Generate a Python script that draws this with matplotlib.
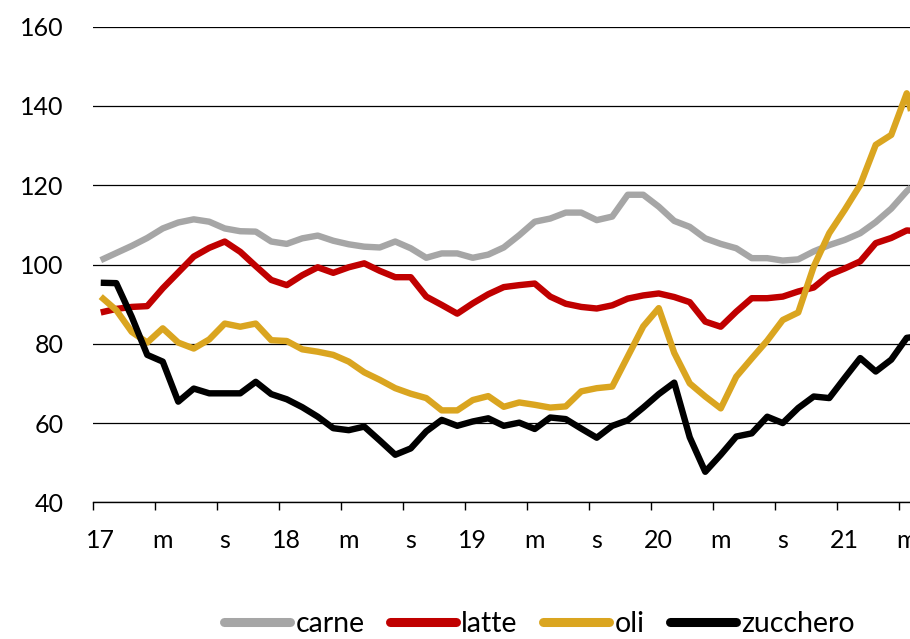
import numpy as np
import matplotlib
matplotlib.use('Agg')
import matplotlib.pyplot as plt
from matplotlib.ticker import FixedLocator, NullFormatter, FixedFormatter

plt.rcParams['font.family'] = ['Lato', 'DejaVu Sans']

# dati mensili da gen 2017 (indice 0) a giu 2021
carne = [101.1, 102.9, 104.7, 106.7, 109.1, 110.6, 111.4, 110.8, 109.1, 108.4,
         108.3, 105.8, 105.2, 106.6, 107.3, 106.0, 105.1, 104.5, 104.3, 105.8,
         104.1, 101.7, 102.8, 102.8, 101.7, 102.5, 104.3, 107.4, 110.8, 111.6,
         113.1, 113.1, 111.2, 112.1, 117.6, 117.6, 114.6, 111.0, 109.5, 106.6,
         105.2, 104.1, 101.6, 101.6, 101.0, 101.3, 103.3, 104.9, 106.2, 107.9,
         110.7, 114.1, 118.5, 122.0]
latte = [87.9, 88.8, 89.3, 89.5, 94.0, 98.0, 102.0, 104.2, 105.8, 103.2,
         99.6, 96.1, 94.8, 97.3, 99.3, 97.9, 99.3, 100.3, 98.4, 96.8,
         96.8, 91.9, 89.8, 87.6, 90.2, 92.5, 94.3, 94.8, 95.2, 91.9,
         90.1, 89.3, 88.9, 89.7, 91.4, 92.2, 92.7, 91.8, 90.5, 85.6,
         84.3, 88.1, 91.5, 91.5, 91.9, 93.2, 94.2, 97.4, 99.0, 100.8,
         105.4, 106.7, 108.6, 108.3]
oli = [91.9, 88.5, 83.0, 80.3, 83.9, 80.3, 78.8, 81.1, 85.1, 84.3,
       85.1, 80.9, 80.7, 78.6, 78.0, 77.2, 75.5, 72.8, 70.9, 68.8,
       67.4, 66.3, 63.2, 63.2, 65.8, 66.8, 64.1, 65.2, 64.6, 63.9,
       64.2, 68.0, 68.8, 69.2, 76.8, 84.4, 89.0, 77.7, 70.0, 66.7,
       63.7, 71.7, 76.3, 80.8, 86.0, 87.9, 99.5, 107.9, 113.8, 120.1,
       130.2, 132.7, 143.2, 127.0]
zucchero = [95.4, 95.3, 86.8, 77.2, 75.5, 65.4, 68.7, 67.5, 67.5, 67.5,
            70.4, 67.3, 66.0, 64.0, 61.6, 58.7, 58.2, 59.1, 55.6, 52.0,
            53.6, 57.9, 60.8, 59.3, 60.4, 61.2, 59.3, 60.1, 58.5, 61.4,
            61.0, 58.6, 56.3, 59.3, 60.7, 63.9, 67.3, 70.2, 56.4, 47.7,
            52.0, 56.6, 57.4, 61.6, 60.0, 63.8, 66.7, 66.3, 71.4, 76.4,
            73.0, 76.0, 81.5, 82.0]
nomi = ['carne', 'latte', 'oli', 'zucchero']
colori = ['#A6A6A6', '#C00000', '#DAA520', '#000000']
etichette_x = ['17', 'm', 's', '18', 'm', 's', '19', 'm', 's', '20', 'm', 's', '21', 'm']

fig = plt.figure(figsize=(9.1, 6.39), dpi=100)
ax = fig.add_axes([0.1022, 0.2139, 0.8978, 0.7443])

x = np.arange(len(carne))
for serie, nome, col in zip([carne, latte, oli, zucchero], nomi, colori):
    ax.plot(x, serie, color=col, lw=4.6, label=nome,
            solid_joinstyle='round', solid_capstyle='butt')

ax.set_ylim(40, 160)
ax.set_yticks(np.arange(40, 161, 20))
ax.set_xlim(-0.5, 52.21)

# tacche ai confini, etichette al centro
pos_lab = np.arange(0, 4 * len(etichette_x), 4)
ax.xaxis.set_major_locator(FixedLocator(pos_lab - 0.5))
ax.xaxis.set_major_formatter(NullFormatter())
ax.xaxis.set_minor_locator(FixedLocator(pos_lab))
ax.xaxis.set_minor_formatter(FixedFormatter(etichette_x))
ax.tick_params(axis='x', which='major', length=6, width=1, color='black', direction='out')
ax.tick_params(axis='x', which='minor', length=0, pad=19, labelsize=18)
ax.tick_params(axis='y', length=0, pad=21, labelsize=18)

ax.grid(axis='y', color='black', lw=0.9)
ax.set_axisbelow(True)
for s in ['top', 'right', 'left']:
    ax.spines[s].set_visible(False)
ax.spines['bottom'].set_linewidth(1.0)

leg = fig.legend(loc='center', bbox_to_anchor=(0.593, 0.024), ncol=4, frameon=False,
                 fontsize=20.5, handlelength=2.3, handletextpad=0.2, columnspacing=0.9)
for h in leg.get_lines():
    h.set_linewidth(6.5)
    h.set_solid_capstyle('round')

fig.savefig('out.png', dpi=100)
